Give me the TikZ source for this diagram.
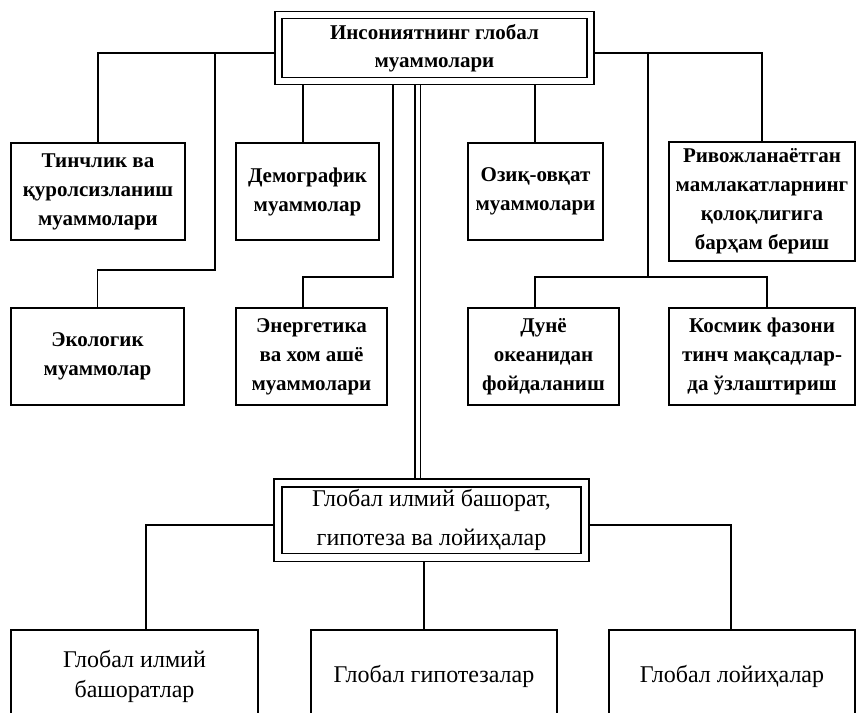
\documentclass[tikz,border=0pt]{standalone}
\usepackage{fontspec}
\setmainfont{Liberation Serif}
\begin{document}
\begin{tikzpicture}[x=1pt,y=-1pt,
  box/.style={draw, line width=1.6pt, rectangle, inner sep=0pt, align=center, font=\bfseries\fontsize{21}{29}\selectfont},
  lbox/.style={box, font=\fontsize{24}{30}\selectfont},
  dbox/.style={draw, line width=1.5pt, double, double distance=5.5pt, outer sep=4.25pt, inner sep=0pt, align=center},
  conn/.style={line width=1.6pt},
  dline/.style={line width=1.8pt, double, double distance=4pt}]
\useasboundingbox (0,0) rectangle (858,712);
\clip (0,0) rectangle (858,712);

% main boxes
\node[dbox, minimum width=312pt, minimum height=66pt, font=\bfseries\fontsize{21}{28}\selectfont] (top) at (434.5,48) {Инсониятнинг глобал\\муаммолари};
\node[dbox, double distance=6.5pt, outer sep=4.75pt, minimum width=307pt, minimum height=74.5pt, font=\fontsize{24}{39}\selectfont] (mid) at (431.5,520.25) {Глобал илмий башорат,\\гипотеза ва лойиҳалар};

% first row
\node[box, minimum width=174pt, minimum height=97pt] (tinch) at (98,191.5) {Тинчлик ва\\қуролсизланиш\\муаммолари};
\node[box, minimum width=143pt, minimum height=97pt] (demog) at (307.5,191.5) {Демографик\\муаммолар};
\node[box, minimum width=135pt, minimum height=97pt] (ozik) at (535.5,191.5) {Озиқ-овқат\\муаммолари};
\node[box, minimum width=186pt, minimum height=119pt] (rivoj) at (762,201.5) {Ривожланаётган\\мамлакатларнинг\\қолоқлигига\\барҳам бериш};

% second row
\node[box, minimum width=173pt, minimum height=97pt] (eko) at (97.5,356.5) {Экологик\\муаммолар};
\node[box, minimum width=151pt, minimum height=97pt] (en) at (311.5,356.5) {Энергетика\\ва хом ашё\\муаммолари};
\node[box, minimum width=151pt, minimum height=97pt] (dune) at (543.5,356.5) {Дунё\\океанидан\\фойдаланиш};
\node[box, minimum width=186pt, minimum height=97pt] (kosm) at (762,356.5) {Космик фазони\\тинч мақсадлар-\\да ўзлаштириш};

% bottom row
\node[lbox, minimum width=247pt, minimum height=92pt] (b1) at (134.5,676) {Глобал илмий\\башоратлар};
\node[lbox, minimum width=246pt, minimum height=92pt] (b2) at (434,676) {Глобал гипотезалар};
\node[lbox, minimum width=246pt, minimum height=92pt] (b3) at (732,676) {Глобал лойиҳалар};

% helper coordinates
\coordinate (yT) at (0,53);
\coordinate (yL) at (0,270);
\coordinate (yM) at (0,277);
\coordinate (yB) at (0,525);
\coordinate (jL) at (215,53);
\coordinate (jE) at (393,0);
\coordinate (jR) at (648,53);
\coordinate (xD) at (303,0);
\coordinate (xDu) at (535,0);
\coordinate (xK) at (767,0);
\coordinate (xB1) at (146,0);
\coordinate (xB2) at (424,0);
\coordinate (xB3) at (731,0);
\coordinate (xDbl) at (417.5,0);

% connectors
\draw[conn] (top.west |- yT) -| (tinch.north);
\draw[conn] (jL) |- (yL -| eko.north) -- (eko.north);
\draw[conn] (top.south -| xD) -- (demog.north -| xD);
\draw[conn] (top.south -| jE) |- (yM -| xD) -- (en.north -| xD);
\draw[conn] (top.south -| xDu) -- (ozik.north -| xDu);
\draw[conn] (top.east |- yT) -| (rivoj.north);
\draw[conn] (jR) -- (jR |- yM);
\draw[conn] (dune.north -| xDu) |- (yM -| xK) -- (kosm.north -| xK);
\draw[dline] (top.south -| xDbl) -- (mid.north -| xDbl);
\draw[conn] (mid.west |- yB) -| (b1.north -| xB1);
\draw[conn] (mid.east |- yB) -| (b3.north -| xB3);
\draw[conn] (mid.south -| xB2) -- (b2.north -| xB2);
\end{tikzpicture}
\end{document}
